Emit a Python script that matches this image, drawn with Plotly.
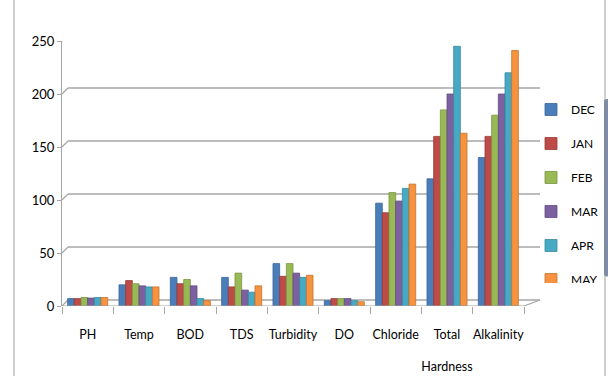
import plotly.graph_objects as go

# Water quality parameters, monthly readings
categories = ["PH", "Temp", "BOD", "TDS", "Turbidity", "DO", "Chloride",
              "Total<br><br>Hardness", "Alkalinity"]
months = ["DEC", "JAN", "FEB", "MAR", "APR", "MAY"]

dec = [7, 20, 27, 27, 40, 5, 97, 120, 140]
jan = [7, 24, 21, 18, 28, 7, 88, 160, 160]
feb = [8, 21, 25, 31, 40, 7, 107, 185, 180]
mar = [7.5, 19, 19, 15, 31, 7, 99, 200, 200]
apr = [8, 18, 7, 13, 27, 5, 111, 245, 220]
may = [8, 18, 5, 19, 29, 4, 115, 163, 241]
series = [dec, jan, feb, mar, apr, may]

colors = ["#4A7EBB", "#BE4B48", "#98B954", "#7D60A0", "#46AAC5", "#F69240"]
edges = ["#3A6595", "#973B39", "#7A9342", "#624B7F", "#37889C", "#C4742F"]

y_ticks = [0, 50, 100, 150, 200, 250]

fig = go.Figure()
for name, vals, c, e in zip(months, series, colors, edges):
    fig.add_trace(go.Bar(
        x=categories, y=vals, name=name, legendgroup=name,
        marker=dict(color=c, line=dict(color=e, width=0.8)),
    ))

# pixel geometry of the plot area
W, H = 608, 376
ml, mr, mt, mb = 62, 84, 41, 70
pw, ph = W - ml - mr, H - mt - mb
px_per_unit = ph / 250.0
depth = 6  # back-wall offset in px

shapes = []
dx = depth / pw
dy_units = depth / px_per_unit
for v in y_ticks:
    # back gridline with a short diagonal from the front edge
    shapes.append(dict(type="line", xref="paper", yref="y",
                       x0=dx, x1=(540 - ml) / pw, y0=v + dy_units, y1=v + dy_units,
                       line=dict(color="#A6A6A6", width=1.6), layer="below"))
    shapes.append(dict(type="line", xref="paper", yref="y",
                       x0=0, x1=dx, y0=v, y1=v + dy_units,
                       line=dict(color="#A6A6A6", width=1.2), layer="below"))
# floor front edge and right diagonal
shapes.append(dict(type="line", xref="paper", yref="y", x0=0, x1=1, y0=0, y1=0,
                   line=dict(color="#A6A6A6", width=1.2)))
shapes.append(dict(type="line", xref="paper", yref="y", x0=1, x1=(540 - ml) / pw,
                   y0=0, y1=dy_units, line=dict(color="#A6A6A6", width=1.2)))
# chart frame
shapes.append(dict(type="line", xref="paper", yref="paper",
                   x0=(14 - ml) / pw, x1=(14 - ml) / pw,
                   y0=-mb / ph, y1=(ph + mt) / ph,
                   line=dict(color="#BFBFBF", width=1.5)))
shapes.append(dict(type="line", xref="paper", yref="paper",
                   x0=(605 - ml) / pw, x1=(605 - ml) / pw,
                   y0=-mb / ph, y1=(ph + mt) / ph,
                   line=dict(color="#BFBFBF", width=1.5)))

fig.update_layout(
    width=W, height=H,
    margin=dict(l=ml, r=mr, t=mt, b=mb, autoexpand=False),
    paper_bgcolor="white", plot_bgcolor="white",
    font=dict(family="Lato, Arial, sans-serif", size=12, color="#000000"),
    barmode="group", bargap=0.22, bargroupgap=0.0,
    showlegend=True,
    legend=dict(xref="container", yref="container",
                x=531 / W, xanchor="left", y=1 - 95 / H, yanchor="top",
                font=dict(size=12), tracegroupgap=15, itemwidth=30,
                bgcolor="rgba(0,0,0,0)"),
    shapes=shapes,
)
fig.update_xaxes(
    showgrid=False, showline=False, zeroline=False, automargin=False,
    ticks="outside", tickson="boundaries", ticklen=7, tickcolor="#A6A6A6",
    tickfont=dict(size=12.5), tickangle=0, ticklabelstandoff=19,
)
fig.update_yaxes(
    range=[0, 250], tickvals=y_ticks, showgrid=False, zeroline=False,
    showline=True, linecolor="#A6A6A6", linewidth=1.2, automargin=False,
    ticks="outside", ticklen=4, tickcolor="#A6A6A6",
    tickfont=dict(size=13),
)

fig.write_html("out.html")
